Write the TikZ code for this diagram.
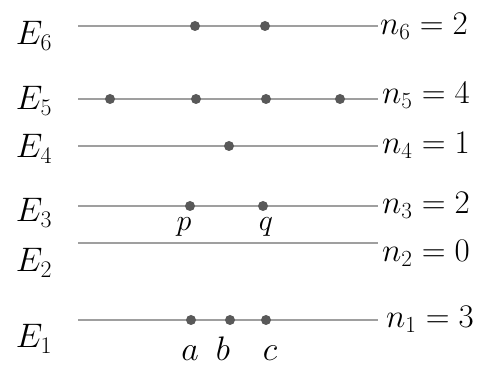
\RequirePackage{fix-cm}
\documentclass[tikz,border=0pt]{standalone}
\usetikzlibrary{positioning}
\tikzset{
  level/.style={gray!75, line width=1.3pt},
  particle/.style={circle, fill=black!65, inner sep=0pt, minimum size=10pt},
  lab/.style={anchor=base, inner sep=0pt, font=\fontsize{34}{38}\selectfont},
  occ/.style={anchor=base west, inner sep=0pt, font=\fontsize{33}{36}\selectfont}
}
\begin{document}
\begin{tikzpicture}[x=1pt,y=-1pt]
  \useasboundingbox (0,0) rectangle (496,371);
  % energy levels
  \foreach \i/\y in {6/26,5/99,4/146,3/206,2/243,1/320} {
    \coordinate (L\i) at (78,\y);
    \coordinate (R\i) at (378,\y);
    \draw[level] (L\i) -- (R\i);
  }
  % level names
  \node[lab] (E6) at (34,45) {$E_6$};
  \node[lab] (E5) at (34,110) {$E_5$};
  \node[lab] (E4) at (34,158) {$E_4$};
  \node[lab] (E3) at (34,222) {$E_3$};
  \node[lab] (E2) at (34,272) {$E_2$};
  \node[lab] (E1) at (34,348) {$E_1$};
  % occupation numbers
  \node[occ] (n6) at (380,35) {$n_6 = 2$};
  \node[occ] (n5) at (382,104) {$n_5 = 4$};
  \node[occ] (n4) at (382,154) {$n_4 = 1$};
  \node[occ] (n3) at (382,214) {$n_3 = 2$};
  \node[occ] (n2) at (382,262) {$n_2 = 0$};
  \node[occ] (n1) at (386,328) {$n_1 = 3$};
  % particles
  \node[particle] (d61) at (195,26) {};
  \node[particle] (d62) at (265,26) {};
  \node[particle] (d51) at (110,99) {};
  \node[particle] (d52) at (196,99) {};
  \node[particle] (d53) at (266,99) {};
  \node[particle] (d54) at (340,99) {};
  \node[particle] (d41) at (229,146) {};
  \node[particle] (p) at (190,206) {};
  \node[particle] (q) at (263,206) {};
  \node[particle] (a) at (191,320) {};
  \node[particle] (b) at (230,320) {};
  \node[particle] (c) at (266,320) {};
  % particle labels
  \node[lab, font=\fontsize{30}{34}\selectfont] (pl) at (184,231) {$p$};
  \node[lab, font=\fontsize{30}{34}\selectfont] (ql) at (266,231) {$q$};
  \node[lab] (al) at (190,361) {$a$};
  \node[lab] (bl) at (223,361) {$b$};
  \node[lab] (cl) at (270,361) {$c$};
\end{tikzpicture}
\end{document}
